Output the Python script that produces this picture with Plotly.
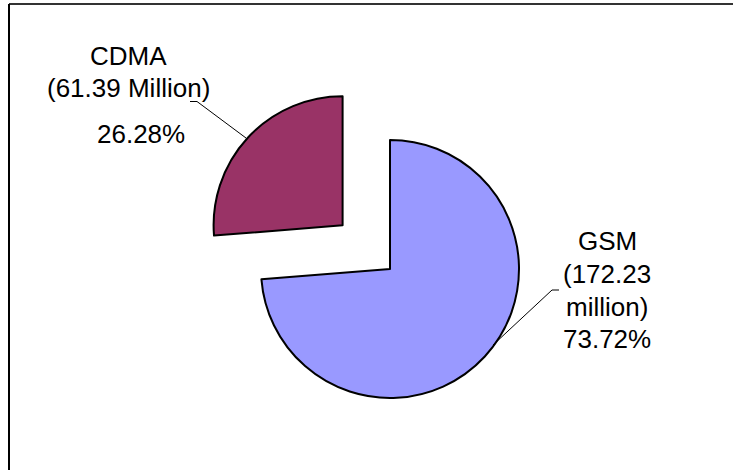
import plotly.graph_objects as go

# ---- data ----
labels = ["GSM", "CDMA"]
subscribers_million = [172.23, 61.39]
unit_words = ["million", "Million"]
share_pct = [73.72, 26.28]
colors = ["#9999FF", "#993366"]
pulls = [0, 0.5]

W, H = 733, 470

def px(x):
    return x / W

def py(y):
    return 1 - y / H

# pie geometry: centre and radius in pixels -> domain
cx, cy, r = 390, 269, 129
half = r * (1 + max(pulls))
dom_x = [px(cx - half), px(cx + half)]
dom_y = [py(cy + half), py(cy - half)]

fig = go.Figure(go.Pie(
    labels=labels,
    values=subscribers_million,
    sort=False,
    direction="clockwise",
    rotation=0,
    pull=pulls,
    marker=dict(colors=colors, line=dict(color="#000000", width=2)),
    textinfo="none",
    hoverinfo="skip",
    showlegend=False,
    domain=dict(x=dom_x, y=dom_y),
))

font = dict(family="Liberation Sans, Arial, sans-serif", size=26, color="#000000")

# label lines built from the data
gsm_lines = [labels[0], f"({subscribers_million[0]:.2f}", f"{unit_words[0]})", f"{share_pct[0]:.2f}%"]
cdma_lines = [labels[1], f"({subscribers_million[1]:.2f} {unit_words[1]})", f"{share_pct[1]:.2f}%"]

gsm_pos = [(607, 241), (607, 274), (607, 307), (607, 339)]
cdma_pos = [(128, 56), (128, 88), (141, 134)]

annotations = []
for txt, (x, y) in zip(gsm_lines + cdma_lines, gsm_pos + cdma_pos):
    annotations.append(dict(
        x=px(x), y=py(y), xref="paper", yref="paper",
        text=txt, showarrow=False, font=font,
        xanchor="center", yanchor="middle",
    ))

shapes = []
def seg(x0, y0, x1, y1, color="#000000", width=1):
    shapes.append(dict(type="line", xref="paper", yref="paper",
                       x0=px(x0), y0=py(y0), x1=px(x1), y1=py(y1),
                       line=dict(color=color, width=width)))

# leader lines
seg(190, 101.5, 197, 101.5)
seg(197, 101.5, 246, 138)
seg(559, 290, 552, 290)
seg(552, 290, 493, 345)

# chart frame (top and left edges visible)
seg(9, 4, 740, 4, color="#333333", width=2)
seg(9, 4, 9, 480, color="#000000", width=2)

fig.update_layout(
    width=W, height=H,
    margin=dict(l=0, r=0, t=0, b=0),
    paper_bgcolor="#FFFFFF",
    plot_bgcolor="#FFFFFF",
    annotations=annotations,
    shapes=shapes,
)

fig.write_html(
    "out.html",
    config={"displayModeBar": False, "staticPlot": True},
    post_script="document.body.style.margin='0';document.body.style.overflow='hidden';",
)
